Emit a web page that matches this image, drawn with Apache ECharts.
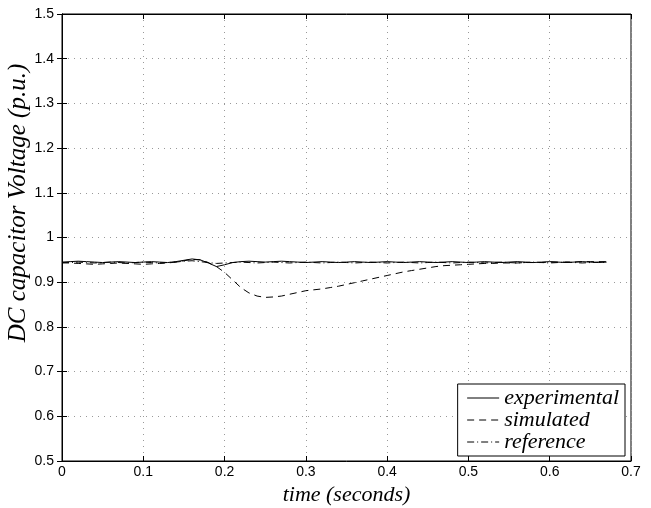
<!DOCTYPE html>
<html>
<head>
<meta charset="utf-8">
<script src="https://cdn.jsdelivr.net/npm/echarts@6/dist/echarts.min.js"></script>
<style>
html,body{margin:0;padding:0;background:#fff;}
#chart{width:651px;height:508px;}
</style>
</head>
<body>
<div id="chart"></div>
<script>
var time = [0.00,0.01,0.02,0.03,0.04,0.05,0.06,0.07,0.08,0.09,
            0.10,0.11,0.12,0.13,0.14,0.15,0.16,0.17,0.18,0.19,
            0.20,0.21,0.22,0.23,0.24,0.25,0.26,0.27,0.28,0.29,
            0.30,0.31,0.32,0.33,0.34,0.35,0.36,0.37,0.38,0.39,
            0.40,0.41,0.42,0.43,0.44,0.45,0.46,0.47,0.48,0.49,
            0.50,0.51,0.52,0.53,0.54,0.55,0.56,0.57,0.58,0.59,
            0.60,0.61,0.62,0.63,0.64,0.65,0.66,0.67];
var experimental = [0.945,0.946,0.947,0.946,0.945,0.944,0.945,0.946,0.945,0.944,
                    0.945,0.946,0.945,0.944,0.946,0.949,0.952,0.950,0.943,0.935,
                    0.939,0.944,0.946,0.947,0.946,0.945,0.946,0.947,0.946,0.945,
                    0.944,0.945,0.946,0.945,0.944,0.945,0.946,0.945,0.944,0.945,
                    0.946,0.945,0.944,0.945,0.946,0.945,0.944,0.945,0.946,0.945,
                    0.944,0.945,0.946,0.945,0.944,0.945,0.946,0.945,0.944,0.945,
                    0.946,0.945,0.944,0.945,0.946,0.945,0.944,0.945];
var simulated = [0.944,0.943,0.942,0.941,0.940,0.941,0.942,0.943,0.942,0.941,
                 0.940,0.941,0.942,0.943,0.945,0.948,0.951,0.950,0.944,0.935,
                 0.922,0.905,0.888,0.876,0.869,0.866,0.867,0.869,0.873,0.877,
                 0.881,0.883,0.885,0.888,0.891,0.895,0.899,0.903,0.907,0.911,
                 0.915,0.919,0.923,0.926,0.929,0.932,0.935,0.937,0.938,0.939,
                 0.940,0.941,0.942,0.942,0.943,0.943,0.943,0.944,0.944,0.944,
                 0.945,0.945,0.945,0.945,0.946,0.946,0.946,0.946];
var reference = [0.943,0.944,0.945,0.944,0.943,0.944,0.945,0.944,0.943,0.944,
                 0.945,0.944,0.943,0.944,0.945,0.947,0.948,0.946,0.944,0.942,
                 0.943,0.944,0.945,0.944,0.943,0.944,0.945,0.944,0.943,0.944,
                 0.945,0.944,0.943,0.944,0.945,0.944,0.943,0.944,0.945,0.944,
                 0.943,0.944,0.945,0.944,0.943,0.944,0.945,0.944,0.943,0.944,
                 0.945,0.944,0.943,0.944,0.945,0.944,0.943,0.944,0.945,0.944,
                 0.943,0.944,0.945,0.944,0.943,0.944,0.945,0.944];
var seriesNames = ['experimental','simulated','reference'];
var xTitle = 'time (seconds)';
var yTitle = 'DC capacitor Voltage (p.u.)';
var xTicks = {min:0, max:0.7, interval:0.1};
var yTicks = {min:0.5, max:1.5, interval:0.1};

function pairs(ys){ return time.map(function(t,i){ return [t, ys[i]]; }); }

var serif = 'Liberation Serif, Times New Roman, serif';
var labelFont = {color:'#000', fontFamily:'Liberation Sans, Arial, sans-serif', fontSize:14};
var titleFont = {color:'#000', fontFamily:serif, fontStyle:'italic', fontSize:22};
var split = {show:true, lineStyle:{color:'#999', type:[1,5], width:1}};

var chart = echarts.init(document.getElementById('chart'), null, {renderer:'canvas'});
chart.setOption({
  animation:false,
  backgroundColor:'#fff',
  grid:{left:62, right:20, top:14, bottom:47, show:true, borderColor:'#000', borderWidth:1,
        containLabel:false, outerBoundsMode:'none'},
  legend:{
    data:seriesNames, orient:'vertical', right:26, top:384,
    backgroundColor:'#fff', borderColor:'#000', borderWidth:1,
    padding:[3,6,3,9], itemGap:0, itemWidth:32, itemHeight:22, itemTextGap:7,
    itemStyle:{opacity:0}, lineStyle:{width:1},
    textStyle:Object.assign({lineHeight:22}, titleFont), align:'left'
  },
  graphic:[{
    type:'text', x:18, y:203, rotation:Math.PI/2,
    style:{text:yTitle, fill:'#000', fontFamily:serif, fontStyle:'italic', fontSize:25,
           align:'center', verticalAlign:'middle'}
  }],
  xAxis:[{
    type:'value', min:xTicks.min, max:xTicks.max, interval:xTicks.interval,
    name:xTitle, nameLocation:'middle', nameGap:23, nameTextStyle:titleFont,
    axisLine:{show:true, lineStyle:{color:'#000'}},
    axisTick:{show:true, inside:true, length:5, lineStyle:{color:'#000'}},
    axisLabel:Object.assign({margin:4}, labelFont),
    splitLine:split
  },{
    type:'value', position:'top', min:xTicks.min, max:xTicks.max, interval:xTicks.interval,
    axisLine:{show:true, lineStyle:{color:'#000'}},
    axisTick:{show:true, inside:true, length:5, lineStyle:{color:'#000'}},
    axisLabel:{show:false}, splitLine:{show:false}
  }],
  yAxis:[{
    type:'value', min:yTicks.min, max:yTicks.max, interval:yTicks.interval,
    axisLine:{show:true, lineStyle:{color:'#000'}},
    axisTick:{show:true, inside:true, length:5, lineStyle:{color:'#000'}},
    axisLabel:Object.assign({margin:8}, labelFont),
    splitLine:split
  },{
    type:'value', position:'right', min:yTicks.min, max:yTicks.max, interval:yTicks.interval,
    axisLine:{show:true, lineStyle:{color:'#000'}},
    axisTick:{show:true, inside:true, length:5, lineStyle:{color:'#000'}},
    axisLabel:{show:false}, splitLine:{show:false}
  }],
  series:[
    {name:seriesNames[0], type:'line', data:pairs(experimental), symbol:'none', smooth:false,
     lineStyle:{color:'#000', width:1, type:'solid'}, itemStyle:{color:'#000'}},
    {name:seriesNames[1], type:'line', data:pairs(simulated), symbol:'none', smooth:false,
     lineStyle:{color:'#000', width:1, type:[7,5]}, itemStyle:{color:'#000'}},
    {name:seriesNames[2], type:'line', data:pairs(reference), symbol:'none', smooth:false,
     lineStyle:{color:'#000', width:1, type:[7,3,1,3]}, itemStyle:{color:'#000'}}
  ]
});
</script>
</body>
</html>
